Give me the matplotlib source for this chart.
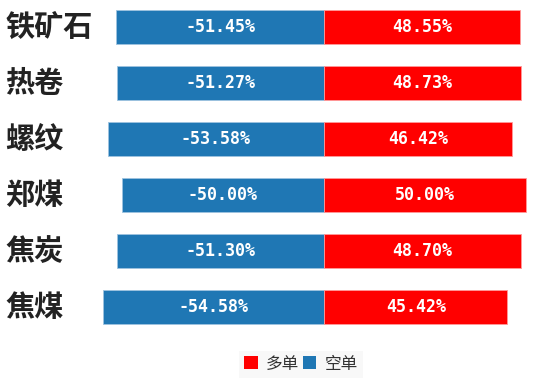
import matplotlib
matplotlib.use("Agg")
import matplotlib.pyplot as plt
from matplotlib.patches import Patch
from matplotlib.transforms import blended_transform_factory

plt.rcParams['font.family'] = ['Noto Sans CJK SC', 'DejaVu Sans']

categories = ["铁矿石", "热卷", "螺纹", "郑煤", "焦炭", "焦煤"]
short_vals = [-51.45, -51.27, -53.58, -50.00, -51.30, -54.58]   # 空单
long_vals = [48.55, 48.73, 46.42, 50.00, 48.70, 45.42]          # 多单

BLUE = "#1f77b4"
RED = "#ff0000"

W, H = 536, 380
fig = plt.figure(figsize=(W / 100, H / 100), dpi=100)
ax = fig.add_axes([100 / W, 40 / H, 436 / W, 340 / H])

y = list(range(len(categories)))
ax.barh(y, short_vals, height=0.6, color=BLUE, edgecolor="#9ec3e0", linewidth=0.6)
ax.barh(y, long_vals, height=0.6, color=RED, edgecolor="#ff9a9a", linewidth=0.6)

for i, (s, l) in enumerate(zip(short_vals, long_vals)):
    ax.text(s / 2, i, f"{s:.2f}%", ha="center", va="center", color="white",
            fontsize=12, family="DejaVu Sans Mono", fontweight="bold")
    ax.text(l / 2, i, f"{l:.2f}%", ha="center", va="center", color="white",
            fontsize=12, family="DejaVu Sans Mono", fontweight="bold")

ax.set_xlim(-224 / 4.04, 212 / 4.04)
ax.set_ylim(5.589, -0.482)
ax.axis("off")

trans = blended_transform_factory(fig.transFigure, ax.transData)
for i, c in enumerate(categories):
    fig.text(5 / W, i, c, transform=trans, ha="left", va="center",
             fontsize=21, fontweight="bold", color="#222222")

handles = [Patch(facecolor=RED, edgecolor="none"), Patch(facecolor=BLUE, edgecolor="none")]
leg = fig.legend(handles, ["多单", "空单"], loc="center", bbox_to_anchor=(301 / W, 1 - 364 / H),
                 ncol=2, frameon=True, fontsize=12, handlelength=0.8, handleheight=0.8,
                 handletextpad=0.5, columnspacing=0.2, borderpad=0.3, fancybox=False)
leg.get_frame().set_facecolor("#f7f7f7")
leg.get_frame().set_edgecolor("none")
for t in leg.get_texts():
    t.set_color("#333333")

fig.savefig("out.png", dpi=100)
